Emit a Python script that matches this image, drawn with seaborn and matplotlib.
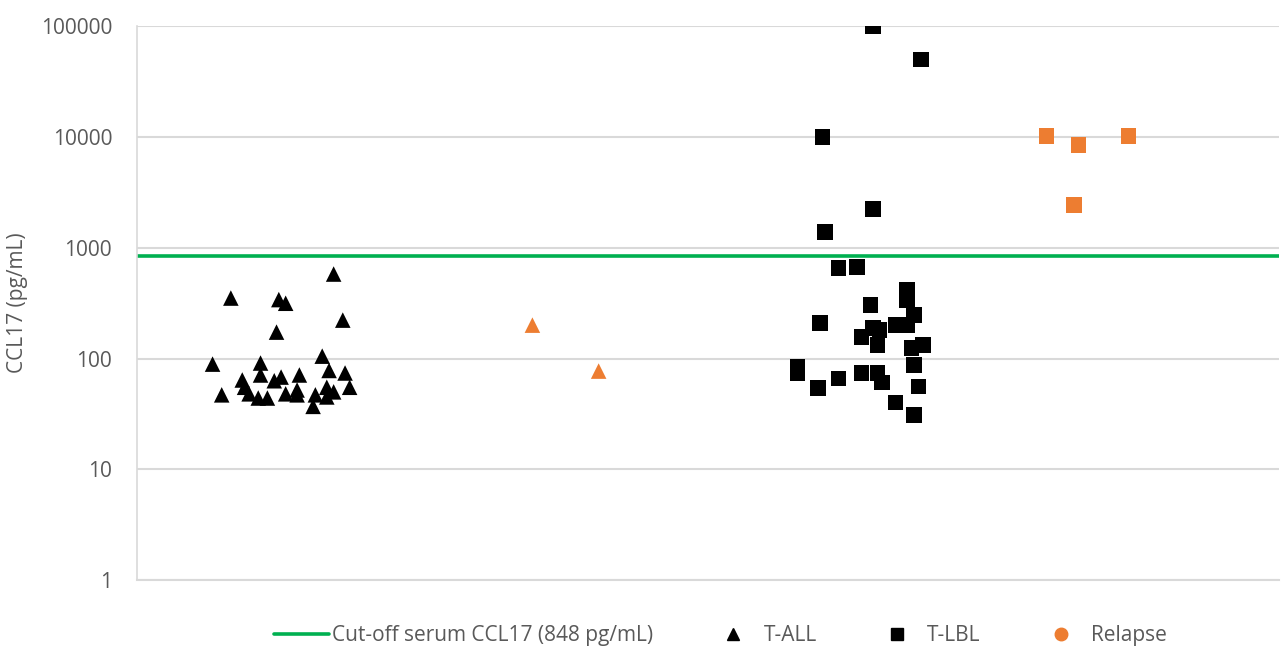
import matplotlib
matplotlib.use("Agg")
import matplotlib.pyplot as plt
from matplotlib.lines import Line2D
import seaborn as sns
import pandas as pd

# Serum CCL17 (pg/mL) per patient; x is the horizontal jitter position within each group
tall_x = [0.33, 0.37, 0.41, 0.46, 0.47, 0.49, 0.53, 0.57, 0.54, 0.54, 0.60, 0.61, 0.62, 0.63,
          0.65, 0.65, 0.70, 0.70, 0.71, 0.77, 0.78, 0.81, 0.83, 0.83, 0.84, 0.86, 0.86, 0.90,
          0.91, 0.93]
tall_y = [89, 47, 351, 64, 55, 48, 44, 44, 91, 71, 63, 173, 340, 68,
          315, 48, 52, 47, 71, 37, 47, 105, 55, 45, 78, 50, 578, 222,
          74, 55]

relapse_tall_x = [1.73, 2.02]
relapse_tall_y = [200, 77]

tlbl_x = [2.89, 2.89, 2.98, 2.99, 3.00, 3.01, 3.07, 3.07, 3.15, 3.17, 3.17, 3.21, 3.22,
          3.22, 3.22, 3.24, 3.24, 3.26, 3.25, 3.32, 3.32, 3.37, 3.37, 3.37, 3.39, 3.40,
          3.40, 3.40, 3.42, 3.43, 3.44]
tlbl_y = [84, 74, 54, 209, 10000, 1390, 655, 66, 668, 156, 74, 303, 100000,
          188, 2230, 132, 74, 61, 180, 200, 40, 414, 337, 200, 124, 31,
          87, 247, 56, 50000, 132]

relapse_tlbl_x = [3.98, 4.12, 4.10, 4.34]
relapse_tlbl_y = [10170, 8440, 2425, 10170]

cutoff = 848

green = "#00B050"
orange = "#ED7D31"
grey_text = "#595959"
grid_col = "#D9D9D9"

sns.set_theme(style="white")
plt.rcParams["font.family"] = ["Open Sans", "DejaVu Sans"]

fig = plt.figure(figsize=(12.82, 6.49), dpi=100)
ax = fig.add_axes([0.107, 0.106, 0.891, 0.854])

groups = [
    (tall_x, tall_y, "^", "black"),
    (relapse_tall_x, relapse_tall_y, "^", orange),
    (tlbl_x, tlbl_y, "s", "black"),
    (relapse_tlbl_x, relapse_tlbl_y, "s", orange),
]
for xs, ys, mk, col in groups:
    df = pd.DataFrame({"x": xs, "y": ys})
    sns.scatterplot(data=df, x="x", y="y", marker=mk, color=col, s=125,
                    edgecolor="none", ax=ax, zorder=3, legend=False)

ax.axhline(cutoff, color=green, lw=2.6, zorder=2)

ax.set_yscale("log")
ax.set_ylim(1, 100000)
ax.set_xlim(0, 5)
ax.set_yticks([1, 10, 100, 1000, 10000, 100000])
ax.set_yticklabels(["1", "10", "100", "1000", "10000", "100000"])
ax.minorticks_off()
ax.set_xticks([])
ax.yaxis.grid(True, color=grid_col, lw=1.5, zorder=0)
ax.set_axisbelow(True)
ax.tick_params(axis="y", labelsize=15, colors=grey_text, length=0, pad=18)
ax.set_xlabel("")
ax.set_ylabel("CCL17 (pg/mL)", fontsize=15, color=grey_text, labelpad=9)

for side in ["top", "right"]:
    ax.spines[side].set_visible(False)
ax.spines["left"].set_color(grid_col)
ax.spines["left"].set_linewidth(1.2)
ax.spines["bottom"].set_color(grid_col)
ax.spines["bottom"].set_linewidth(1.5)

handles = [
    Line2D([], [], color=green, lw=2.6, label="Cut-off serum CCL17 (848 pg/mL)"),
    Line2D([], [], color="black", marker="^", ls="none", markersize=9, label="T-ALL"),
    Line2D([], [], color="black", marker="s", ls="none", markersize=9, label="T-LBL"),
    Line2D([], [], color=orange, marker="o", ls="none", markersize=9, label="Relapse"),
]
leg = fig.legend(handles=handles, loc="center", bbox_to_anchor=(0.562, 0.021), ncol=4,
                 frameon=False, fontsize=15, handlelength=2.65, columnspacing=2.5,
                 handletextpad=0.15, borderpad=0)
for t in leg.get_texts():
    t.set_color(grey_text)

fig.savefig("out.png", dpi=100)
